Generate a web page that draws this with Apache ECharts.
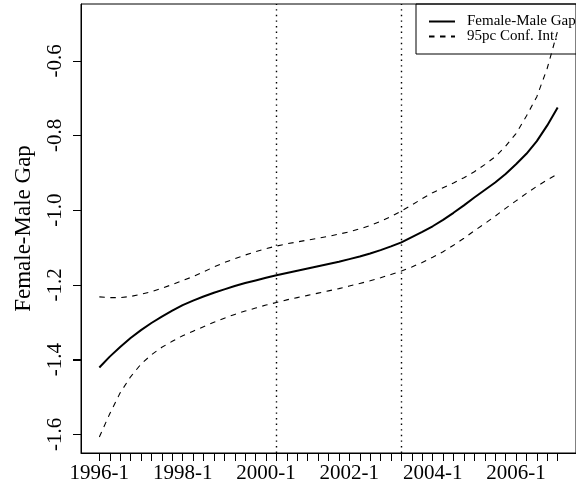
<!DOCTYPE html>
<html>
<head>
<meta charset="utf-8">
<script src="https://cdn.jsdelivr.net/npm/echarts@6/dist/echarts.min.js"></script>
<style>
  html, body { margin: 0; padding: 0; background: #fff; }
  #chart { width: 576px; height: 494px; }
</style>
</head>
<body>
<div id="chart"></div>
<script>
// Quarterly periods, 1996-1 .. 2007-1
const periods = [
  '1996-1','1996-2','1996-3','1996-4','1997-1','1997-2','1997-3','1997-4',
  '1998-1','1998-2','1998-3','1998-4','1999-1','1999-2','1999-3','1999-4',
  '2000-1','2000-2','2000-3','2000-4','2001-1','2001-2','2001-3','2001-4',
  '2002-1','2002-2','2002-3','2002-4','2003-1','2003-2','2003-3','2003-4',
  '2004-1','2004-2','2004-3','2004-4','2005-1','2005-2','2005-3','2005-4',
  '2006-1','2006-2','2006-3','2006-4','2007-1'
];

// Estimated female-male gap per quarter
const gap = [
  -1.421, -1.392, -1.366, -1.342, -1.321, -1.302, -1.285, -1.269, -1.254, -1.242,
  -1.231, -1.221, -1.212, -1.203, -1.195, -1.188, -1.181, -1.174, -1.168, -1.162,
  -1.156, -1.150, -1.144, -1.138, -1.131, -1.124, -1.116, -1.107, -1.097, -1.086,
  -1.072, -1.058, -1.043, -1.026, -1.007, -0.987, -0.966, -0.946, -0.926, -0.903,
  -0.877, -0.849, -0.815, -0.773, -0.725
];

// 95% confidence band
const upper = [
  -1.232, -1.234, -1.234, -1.231, -1.225, -1.218, -1.209, -1.199, -1.188, -1.178,
  -1.165, -1.152, -1.140, -1.130, -1.120, -1.111, -1.103, -1.096, -1.090, -1.085,
  -1.080, -1.075, -1.070, -1.064, -1.058, -1.050, -1.041, -1.030, -1.017, -1.002,
  -0.986, -0.969, -0.953, -0.940, -0.927, -0.913, -0.897, -0.878, -0.857, -0.829,
  -0.795, -0.748, -0.696, -0.620, -0.520
];
const lower = [
  -1.607, -1.545, -1.489, -1.446, -1.412, -1.387, -1.367, -1.351, -1.336, -1.324,
  -1.312, -1.300, -1.289, -1.279, -1.270, -1.262, -1.254, -1.247, -1.240, -1.234,
  -1.228, -1.222, -1.216, -1.210, -1.203, -1.196, -1.189, -1.181, -1.172, -1.163,
  -1.152, -1.140, -1.126, -1.111, -1.094, -1.075, -1.055, -1.036, -1.016, -0.995,
  -0.975, -0.955, -0.936, -0.919, -0.903
];

// Labelled periods on the time axis and ticks on the value axis
const xTickLabels = ['1996-1', '1998-1', '2000-1', '2002-1', '2004-1', '2006-1'];
const yTicks = [-1.6, -1.4, -1.2, -1.0, -0.8, -0.6];
// Reference periods marked by vertical dotted lines
const markedPeriods = ['2000-2', '2003-2'];

const FONT = 'Liberation Serif';
const TICK_LEN = 8;
const idx = p => periods.indexOf(p);
const toPairs = arr => arr.map((v, i) => [i, v]);

const chart = echarts.init(document.getElementById('chart'), null, { renderer: 'canvas' });

const n = periods.length - 1;
const padX = n * 0.04;

chart.setOption({
  animation: false,
  backgroundColor: '#fff',
  grid: {
    left: 81, top: 4, right: -5, bottom: 41,
    show: true, borderColor: '#000', borderWidth: 1
  },
  xAxis: {
    type: 'value',
    min: -padX, max: n + padX,
    axisLine: { show: true, onZero: false, lineStyle: { color: '#000', width: 1 } },
    splitLine: { show: false },
    axisTick: {
      show: true, length: TICK_LEN, lineStyle: { color: '#000', width: 1 },
      customValues: periods.map((p, i) => i)
    },
    axisLabel: {
      show: true, margin: 10,
      fontFamily: FONT, fontSize: 21, color: '#000',
      customValues: xTickLabels.map(idx),
      formatter: v => periods[Math.round(v)]
    }
  },
  yAxis: {
    type: 'value',
    min: -1.65, max: -0.448,
    name: 'Female-Male Gap',
    nameLocation: 'middle',
    nameRotate: 90,
    nameGap: 46,
    nameTextStyle: { fontFamily: FONT, fontSize: 23, color: '#000' },
    axisLine: { show: true, onZero: false, lineStyle: { color: '#000', width: 1 } },
    splitLine: { show: false },
    axisTick: {
      show: true, length: TICK_LEN, lineStyle: { color: '#000', width: 1 },
      customValues: yTicks
    },
    axisLabel: {
      show: true, rotate: 90, margin: 15,
      fontFamily: FONT, fontSize: 21, color: '#000',
      customValues: yTicks,
      formatter: v => v.toFixed(1)
    }
  },
  legend: {
    data: ['Female-Male Gap', '95pc Conf. Int.'],
    orient: 'vertical',
    left: 416, top: 4,
    padding: [10, 60, 10, 12],
    itemWidth: 26, itemHeight: 13, itemGap: 0,
    borderColor: '#000', borderWidth: 1,
    selectedMode: false,
    itemStyle: { opacity: 0 },
    textStyle: { fontFamily: FONT, fontSize: 15, color: '#000', lineHeight: 13, padding: [0, 0, 0, 7] }
  },
  series: [
    {
      name: 'Female-Male Gap',
      type: 'line',
      data: toPairs(gap),
      symbol: 'none',
      lineStyle: { color: '#000', width: 2 },
      itemStyle: { color: '#000' },
      z: 3,
      markLine: {
        silent: true,
        symbol: 'none',
        label: { show: false },
        lineStyle: { color: '#000', width: 1.4, type: [1.4, 4.2] },
        data: markedPeriods.map(p => ({ xAxis: idx(p) }))
      }
    },
    {
      name: '95pc Conf. Int.',
      type: 'line',
      data: toPairs(upper),
      symbol: 'none',
      lineStyle: { color: '#000', width: 1.1, type: [5.5, 5.5] },
      itemStyle: { color: '#000' }
    },
    {
      name: '95pc Conf. Int.',
      type: 'line',
      data: toPairs(lower),
      symbol: 'none',
      lineStyle: { color: '#000', width: 1.1, type: [5.5, 5.5] },
      itemStyle: { color: '#000' }
    }
  ]
});

// Outward tick marks on the value axis, placed through the axis scale
const axisX = chart.convertToPixel({ xAxisIndex: 0 }, -padX);
chart.setOption({
  graphic: {
    elements: yTicks.map(v => {
      const y = Math.round(chart.convertToPixel({ yAxisIndex: 0 }, v)) + 0.5;
      return {
        type: 'line',
        silent: true,
        shape: { x1: axisX - TICK_LEN, y1: y, x2: axisX, y2: y },
        style: { stroke: '#000', lineWidth: 1 }
      };
    })
  }
});
</script>
</body>
</html>
